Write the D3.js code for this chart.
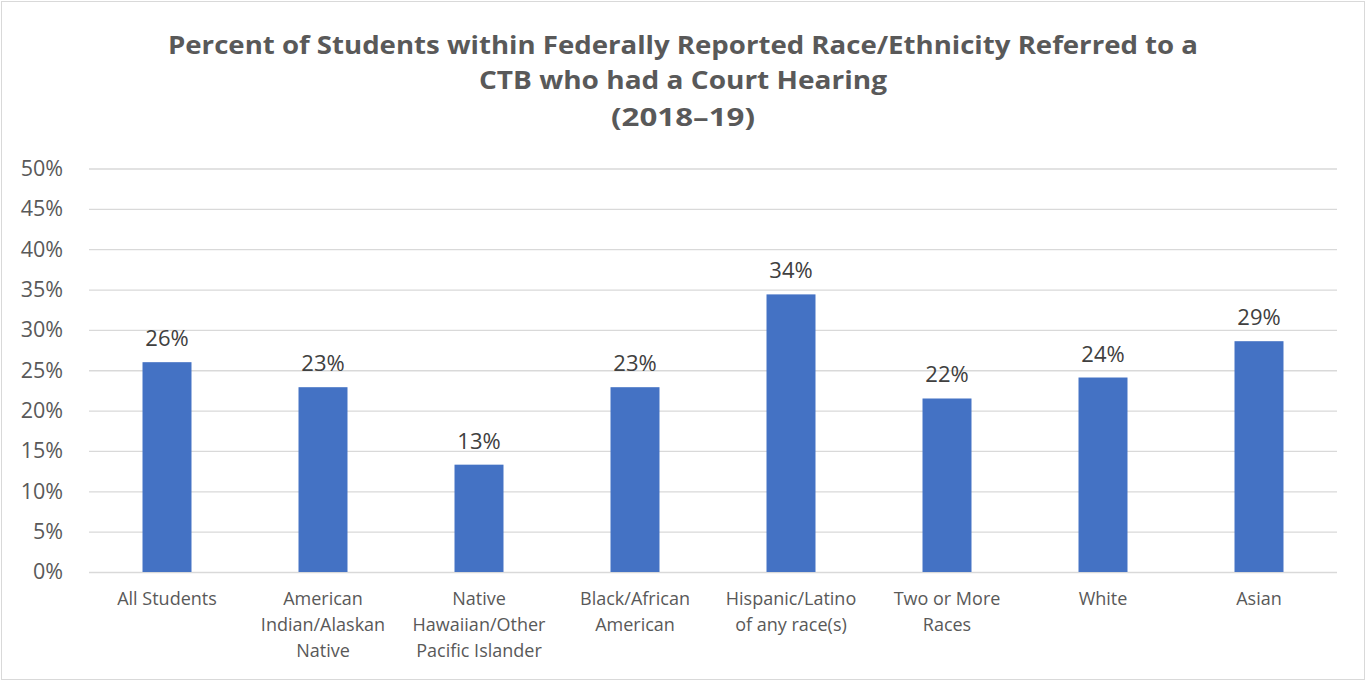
<!DOCTYPE html>
<html><head><meta charset="utf-8">
<script src="https://cdn.jsdelivr.net/npm/d3@7"></script>
<style>
html,body{margin:0;padding:0;background:#fff;}
svg{display:block;}
</style></head>
<body>
<script>
const categories = [
  ["All Students"],
  ["American", "Indian/Alaskan", "Native"],
  ["Native", "Hawaiian/Other", "Pacific Islander"],
  ["Black/African", "American"],
  ["Hispanic/Latino", "of any race(s)"],
  ["Two or More", "Races"],
  ["White"],
  ["Asian"]
];
const values = [0.26, 0.229, 0.133, 0.229, 0.344, 0.215, 0.241, 0.286];
const valueLabels = ["26%", "23%", "13%", "23%", "34%", "22%", "24%", "29%"];
const yTicks = [0, 0.05, 0.10, 0.15, 0.20, 0.25, 0.30, 0.35, 0.40, 0.45, 0.50];
const titleLines = [
  "Percent of Students within Federally Reported Race/Ethnicity Referred to a",
  "CTB who had a Court Hearing",
  "(2018\u201319)"
];

(function () {
const W = 1366, H = 681;
const font = "'Open Sans', 'Noto Sans', sans-serif";
const svg = d3.select("body").append("svg").attr("width", W).attr("height", H);

svg.append("rect").attr("x", 1.5).attr("y", 1.5).attr("width", W - 3).attr("height", H - 3)
  .attr("fill", "#fff").attr("stroke", "#d9d9d9").attr("stroke-width", 1);

const pLeft = 89, pRight = 1337, pTop = 168.5, pBottom = 572;
const idx = categories.map((d, i) => i);
const x = d3.scaleBand().domain(idx).range([pLeft, pRight]).paddingInner(0.686).paddingOuter(0.343);
const y = d3.scaleLinear().domain([0, 0.5]).range([pBottom, pTop]);

// gridlines + y axis
const yAxis = d3.axisLeft(y).tickValues(yTicks).tickFormat(d3.format(".0%")).tickSize(-(pRight - pLeft)).tickPadding(26);
const ga = svg.append("g").attr("transform", `translate(${pLeft},0)`).call(yAxis);
ga.select(".domain").remove();
ga.selectAll(".tick line").attr("stroke", "#d9d9d9").attr("stroke-width", 1.3);
ga.selectAll(".tick text").attr("fill", "#595959").attr("font-family", font).attr("font-size", 21.5);

// bars
svg.append("g").selectAll("rect").data(values).join("rect")
  .attr("x", (d, i) => x(i)).attr("width", x.bandwidth())
  .attr("y", d => y(d)).attr("height", d => y(0) - y(d))
  .attr("fill", "#4472c4");

// value labels
svg.append("g").selectAll("text").data(values).join("text")
  .attr("x", (d, i) => x(i) + x.bandwidth() / 2)
  .attr("y", d => y(d) - 16)
  .attr("text-anchor", "middle")
  .attr("fill", "#404040").attr("font-family", font).attr("font-size", 22)
  .text((d, i) => valueLabels[i]);

// category labels
const cg = svg.append("g");
categories.forEach((lines, i) => {
  const t = cg.append("text").attr("text-anchor", "middle").attr("fill", "#595959")
    .attr("font-family", font).attr("font-size", 18);
  lines.forEach((l, j) => {
    t.append("tspan").attr("x", x(i) + x.bandwidth() / 2).attr("y", 605 + j * 26).text(l);
  });
});

// title
const tg = svg.append("g");
const titleY = [54, 89, 126];
const titleW = [1030, 408, 144];
titleLines.forEach((l, j) => {
  tg.append("text").attr("x", 683).attr("y", titleY[j]).attr("text-anchor", "middle")
    .attr("fill", "#595959").attr("font-family", font).attr("font-weight", "bold")
    .attr("font-size", 25)
    .attr("textLength", titleW[j]).attr("lengthAdjust", "spacingAndGlyphs")
    .text(l);
});
})();
</script>
</body></html>
